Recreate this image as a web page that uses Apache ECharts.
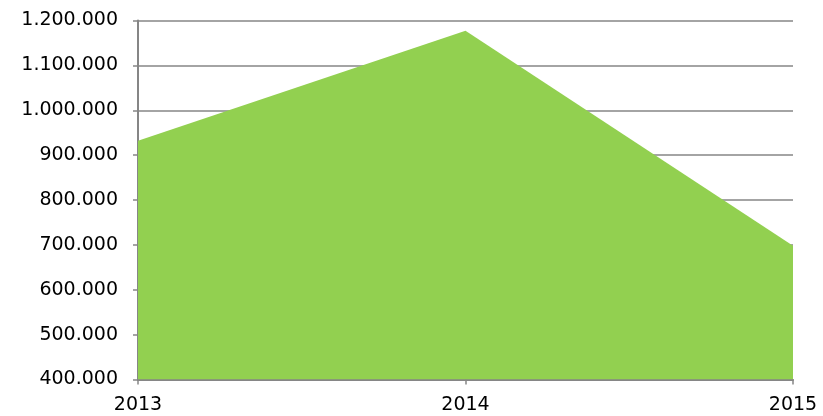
<!DOCTYPE html>
<html>
<head>
<meta charset="utf-8">
<script src="https://cdn.jsdelivr.net/npm/echarts@6/dist/echarts.min.js"></script>
<style>
  html, body { margin: 0; padding: 0; background: #fff; }
  #chart { width: 823px; height: 416px; }
</style>
</head>
<body>
<div id="chart"></div>
<script>
  // data
  const years = ['2013', '2014', '2015']
  const values = [932000, 1177000, 698000]
  const yMin = 400000
  const yMax = 1200000
  const yStep = 100000

  const fmt = v => String(v).replace(/\B(?=(\d{3})+(?!\d))/g, '.')

  const chart = echarts.init(document.getElementById('chart'))
  chart.setOption({
    animation: false,
    grid: { left: 138, right: 30, top: 20.5, bottom: 36.5 },
    xAxis: {
      type: 'category',
      data: years,
      boundaryGap: false,
      axisLine: { lineStyle: { color: '#868686', width: 2 } },
      axisTick: { length: 5, lineStyle: { color: '#868686', width: 1.5 } },
      axisLabel: { color: '#000', fontSize: 19, fontFamily: 'DejaVu Sans', margin: 16 }
    },
    yAxis: {
      type: 'value',
      min: yMin,
      max: yMax,
      interval: yStep,
      axisLine: { show: true, lineStyle: { color: '#868686', width: 2 } },
      axisTick: { show: true, length: 5, lineStyle: { color: '#868686', width: 1.5 } },
      splitLine: { lineStyle: { color: '#868686', width: 1.5 } },
      axisLabel: { color: '#000', fontSize: 19, fontFamily: 'DejaVu Sans', margin: 20, formatter: fmt }
    },
    series: [{
      type: 'line',
      data: values,
      symbol: 'none',
      lineStyle: { width: 0 },
      areaStyle: { color: '#92d050', opacity: 1 },
      z: 3
    }]
  })
</script>
</body>
</html>
